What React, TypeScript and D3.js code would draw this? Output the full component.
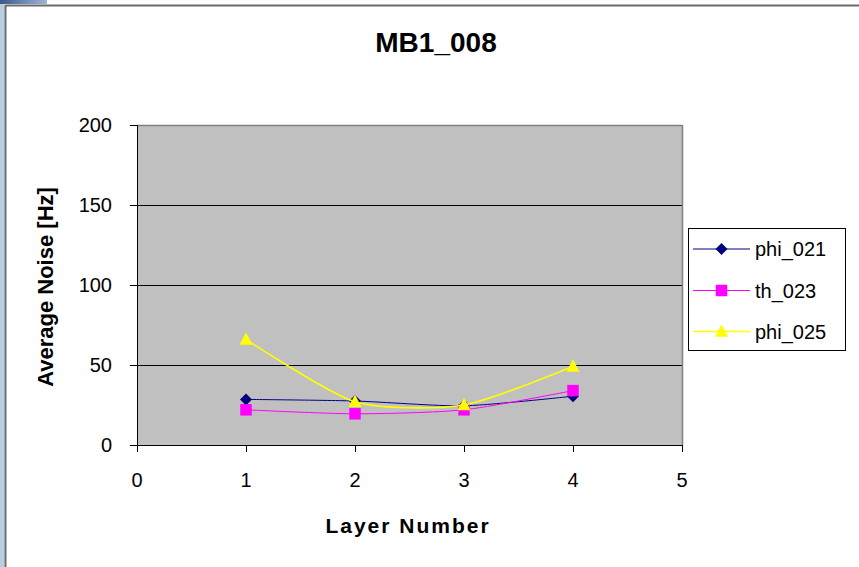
import React from "react";
import * as d3 from "d3";

// Layer numbers on the x axis and average noise per layer for each chamber channel
const layers = [1, 2, 3, 4];
const phi021 = [28.5, 27.5, 24.5, 30.5];
const th023 = [22, 19.5, 22, 34];
const phi025 = [66, 27, 25, 49];
const seriesNames = ["phi_021", "th_023", "phi_025"];
const xTicks = [0, 1, 2, 3, 4, 5];
const yTicks = [0, 50, 100, 150, 200];

const W = 859;
const H = 567;
const FONT = "Arial, 'Liberation Sans', sans-serif";

const x = d3.scaleLinear().domain([0, 5]).range([137, 682]);
const y = d3.scaleLinear().domain([0, 200]).range([445, 125]);

const line = d3
  .line<[number, number]>()
  .x((d) => x(d[0]))
  .y((d) => y(d[1]))
  .curve(d3.curveCardinal.tension(0.3));

const series = [
  { name: seriesNames[0], values: phi021, color: "#000080", marker: "diamond", width: 1 },
  { name: seriesNames[1], values: th023, color: "#FF00FF", marker: "square", width: 1 },
  { name: seriesNames[2], values: phi025, color: "#FFFF00", marker: "triangle", width: 1.6 },
];

function Marker({ kind, cx, cy, color }: { kind: string; cx: number; cy: number; color: string }) {
  if (kind === "diamond") {
    const r = 6;
    return <path d={`M${cx},${cy - r}L${cx + r},${cy}L${cx},${cy + r}L${cx - r},${cy}Z`} fill={color} />;
  }
  if (kind === "square") {
    const s = 11.5;
    return <rect x={cx - s / 2} y={cy - s / 2} width={s} height={s} fill={color} />;
  }
  const h = 12.5;
  return (
    <path
      d={`M${cx},${cy - h / 2 - 1}L${cx + 6.5},${cy + h / 2 - 1}L${cx - 6.5},${cy + h / 2 - 1}Z`}
      fill={color}
    />
  );
}

export default function App() {
  const legendX = 688;
  const legendY = 228;
  const legendRows = [249, 290.5, 331.5];

  return (
    <svg
      width={W}
      height={H}
      style={{ position: "absolute", left: 0, top: 0, background: "#fff" }}
      fontFamily={FONT}
    >
      <defs>
        <linearGradient id="topbar" x1="0" x2="1" y1="0" y2="0">
          <stop offset="0" stopColor="#3a5a8c" />
          <stop offset="1" stopColor="#9fb5d5" />
        </linearGradient>
      </defs>
      {/* window frame */}
      <rect x={0} y={0} width={W} height={H} fill="#fff" />
      <rect x={0} y={0} width={4.5} height={H} fill="#b7cde0" />
      <rect x={0} y={0} width={47} height={4} fill="url(#topbar)" />
      <line x1={5.5} x2={W} y1={5.5} y2={5.5} stroke="#6b6b6b" strokeWidth={2} />
      <line x1={5.5} x2={5.5} y1={5} y2={H} stroke="#6b6b6b" strokeWidth={2} />

      {/* title */}
      <text x={436} y={52} textAnchor="middle" fontSize={28} fontWeight="bold" fill="#000">
        MB1_008
      </text>

      {/* plot area */}
      <rect x={x(0)} y={y(200)} width={x(5) - x(0)} height={y(0) - y(200)} fill="#c0c0c0" />
      <line x1={x(0)} x2={x(5)} y1={y(200) + 0.5} y2={y(200) + 0.5} stroke="#808080" strokeWidth={1.5} />
      <line x1={x(5) + 0.5} x2={x(5) + 0.5} y1={y(200)} y2={y(0)} stroke="#808080" strokeWidth={1.5} />

      {/* gridlines */}
      {yTicks
        .filter((t) => t > 0 && t < 200)
        .map((t) => (
          <line key={`g${t}`} x1={x(0)} x2={x(5)} y1={y(t) + 0.5} y2={y(t) + 0.5} stroke="#000" strokeWidth={1} />
        ))}

      {/* axes */}
      <line x1={x(0) + 0.5} x2={x(0) + 0.5} y1={y(200)} y2={y(0) + 6} stroke="#000" strokeWidth={1} />
      <line x1={x(0) - 7} x2={x(5)} y1={y(0) + 0.5} y2={y(0) + 0.5} stroke="#000" strokeWidth={1} />
      {yTicks.map((t) => (
        <g key={`y${t}`}>
          <line x1={x(0) - 7} x2={x(0)} y1={y(t) + 0.5} y2={y(t) + 0.5} stroke="#000" />
          <text x={112} y={y(t) + 7} textAnchor="end" fontSize={20} fill="#000">
            {t}
          </text>
        </g>
      ))}
      {xTicks.map((t) => (
        <g key={`x${t}`}>
          <line x1={x(t) + 0.5} x2={x(t) + 0.5} y1={y(0)} y2={y(0) + 7} stroke="#000" />
          <text x={x(t)} y={487} textAnchor="middle" fontSize={20} fill="#000">
            {t}
          </text>
        </g>
      ))}

      {/* axis titles */}
      <text x={408} y={533} textAnchor="middle" fontSize={21} fontWeight="bold" letterSpacing={2} fill="#000">
        Layer Number
      </text>
      <text
        transform="translate(53,287) rotate(-90)"
        textAnchor="middle"
        fontSize={22}
        fontWeight="bold"
        fill="#000"
      >
        Average Noise [Hz]
      </text>

      {/* series */}
      {series.map((s) => (
        <g key={s.name}>
          <path
            d={line(layers.map((l, i) => [l, s.values[i]] as [number, number])) || ""}
            fill="none"
            stroke={s.color}
            strokeWidth={s.width}
          />
          {layers.map((l, i) => (
            <Marker key={i} kind={s.marker} cx={x(l)} cy={y(s.values[i])} color={s.color} />
          ))}
        </g>
      ))}

      {/* legend */}
      <rect x={legendX + 0.5} y={legendY + 0.5} width={157} height={122} fill="#fff" stroke="#000" />
      {series.map((s, i) => (
        <g key={`l${s.name}`}>
          <line x1={693} x2={750} y1={legendRows[i]} y2={legendRows[i]} stroke={s.color} strokeWidth={s.width} />
          <Marker kind={s.marker} cx={721.5} cy={legendRows[i]} color={s.color} />
          <text x={755} y={legendRows[i] + 7} fontSize={20} fill="#000">
            {s.name}
          </text>
        </g>
      ))}
    </svg>
  );
}
